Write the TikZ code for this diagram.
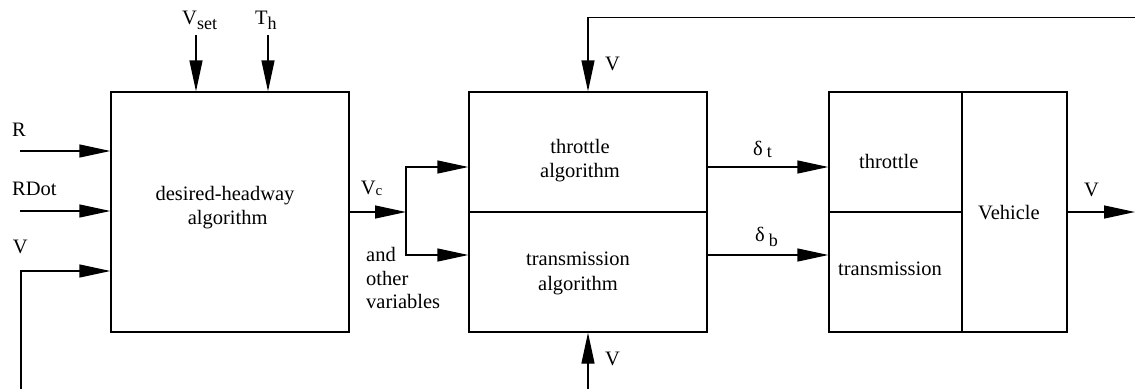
\documentclass[tikz,border=0pt]{standalone}
\usepackage{fontspec}
\setmainfont{Liberation Serif}
\usetikzlibrary{arrows.meta}
\newcommand{\subtx}[3]{\raisebox{-#1pt}{\fontsize{#2}{#2}\selectfont #3}}
\begin{document}
\begin{tikzpicture}[x=1pt,y=-1pt,
  box/.style={draw,line width=1.3pt,inner sep=0pt},
  wire/.style={line width=1.3pt},
  arr/.style={line width=1.3pt,-{Triangle[length=31pt,width=13pt]}},
  txt/.style={inner sep=0pt,anchor=base west,font=\fontsize{20.5}{23.5}\selectfont},
  ctxt/.style={inner sep=0pt,anchor=base,font=\fontsize{20.5}{23.5}\selectfont}]
\useasboundingbox (0,0) rectangle (1135,389);
% blocks
\node[box,minimum width=238pt,minimum height=240pt] (h1) at (230,212) {};
\node[box,minimum width=238pt,minimum height=120pt] (t2) at (588,152) {};
\node[box,minimum width=238pt,minimum height=120pt] (b2) at (588,272) {};
\node[box,minimum width=133pt,minimum height=120pt] (t3) at (895.5,152) {};
\node[box,minimum width=133pt,minimum height=120pt] (b3) at (895.5,272) {};
\node[box,minimum width=105pt,minimum height=240pt] (veh) at (1014.5,212) {};
% block texts
\node[ctxt] (h1a) at (225,200.7) {desired-headway};
\node[ctxt] (h1b) at (227.7,224) {algorithm};
\node[ctxt] (t2a) at (580,153) {throttle};
\node[ctxt] (t2b) at (580,177) {algorithm};
\node[ctxt] (b2a) at (578,265) {transmission};
\node[ctxt] (b2b) at (578,290) {algorithm};
\node[txt] (t3a) at (859,168.3) {throttle};
\node[txt] (b3a) at (838,275) {transmission};
\node[txt] (veha) at (978,219) {Vehicle};
% labels
\node[txt] (lR) at (12,136.7) {R};
\node[txt] (lRD) at (12,195) {RDot};
\node[txt] (lV) at (12.7,253) {V};
\node[txt] (lVs) at (182,24) {V\subtx{5}{18}{set}};
\node[txt] (lTh) at (255,24) {T\subtx{5}{18}{h}};
\node[txt] (lVc) at (360.7,194) {V\subtx{1.5}{15}{c}};
\node[txt] (and1) at (366,261.7) {and};
\node[txt] (and2) at (366,285) {other};
\node[txt] (and3) at (366,308) {variables};
\node[txt] (ldt) at (753,155) {δ\hspace{4pt}\subtx{2}{18}{t}};
\node[txt] (ldb) at (755,241.7) {δ\hspace{4pt}\subtx{5}{18}{b}};
\node[txt] (lVt) at (605,70) {V};
\node[txt] (lVb) at (605,365) {V};
\node[txt] (lVo) at (1084,196.7) {V};
% coordinates
\coordinate (rin) at (20,151);
\coordinate (rdin) at (20,211);
\coordinate (vin) at (21,389);
\coordinate (vinT) at (21,271);
\coordinate (vs) at (196,35);
\coordinate (th) at (268,35);
\coordinate (sp) at (406,212);
\coordinate (spT) at (406,167);
\coordinate (spB) at (406,255);
\coordinate (vout) at (1135,212);
\coordinate (fbR) at (1135,17.3);
\coordinate (bv) at (588,389);
% connectors
\draw[arr] (rin) -- (rin -| h1.west);
\draw[arr] (rdin) -- (rdin -| h1.west);
\draw[arr] (vin) -- (vinT) -- (vinT -| h1.west);
\draw[arr] (vs) -- (vs |- h1.north);
\draw[arr] (th) -- (th |- h1.north);
\draw[arr] (h1.east) -- (sp);
\draw[arr] (sp) |- (spT -| t2.west);
\draw[arr] (sp) |- (spB -| b2.west);
\draw[arr] (spT -| t2.east) -- (spT -| t3.west);
\draw[arr] (spB -| b2.east) -- (spB -| b3.west);
\draw[arr] (veh.east) -- (vout);
\draw[arr] (fbR) -| (t2.north);
\draw[arr] (bv) -- (b2.south);
\end{tikzpicture}
\end{document}
